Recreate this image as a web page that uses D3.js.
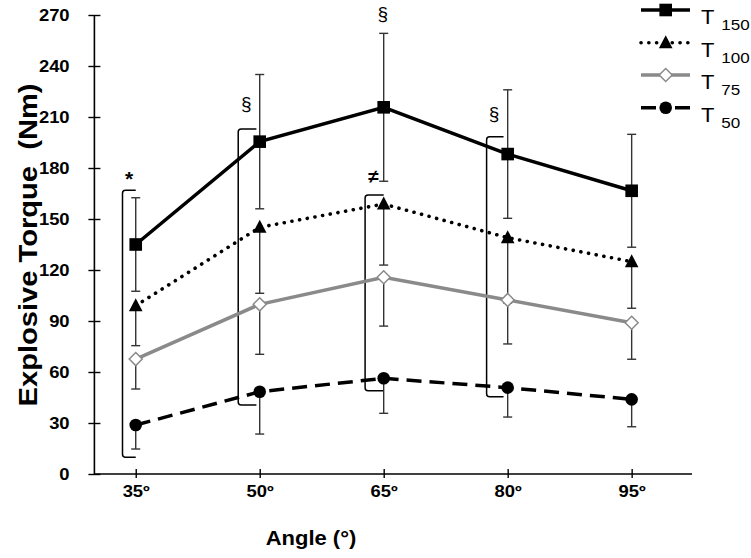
<!DOCTYPE html>
<html>
<head>
<meta charset="utf-8">
<script src="https://cdn.jsdelivr.net/npm/d3@7"></script>
<style>
  html, body { margin: 0; padding: 0; background: #fff; }
  svg { display: block; }
  text { font-family: "Liberation Sans", Arial, sans-serif; }
</style>
</head>
<body>
<svg id="chart" width="751" height="558"></svg>
<script>
// ---- data ----
const angles = [35, 50, 65, 80, 95];
const angleLabels = ["35º", "50º", "65º", "80º", "95º"];
const yTicks = [0, 30, 60, 90, 120, 150, 180, 210, 240, 270];

const t150 = [135, 195.5, 215.7, 188.2, 166.6];
const t150Err = [27.5, 39.5, 43.5, 37.8, 33.2];
const t100 = [99, 145.1, 158.8, 139, 124.9];
const t100Err = [23.5, 38.8, 35.9, 38.4, 27.4];
const t75 = [67.6, 99.8, 115.7, 102.4, 89];
const t75Err = [17.6, 29.4, 28.7, 25.9, 21.5];
const t50 = [28.8, 48.4, 56.3, 50.8, 43.9];
const t50Err = [14.1, 24.9, 20.6, 17.3, 16.1];

const seriesNames = ["150", "100", "75", "50"];

// significance brackets (angle of bracket spine, arm end angle, low/high value, symbol)
const bracketAngle = [33.4, 47.4, 62.75, 77.45];
const bracketArmEnd = [35, 49.6, 65, 79.5];
const bracketLow = [9.8, 40.6, 49, 45.5];
const bracketHigh = [166.9, 202.9, 164.1, 198.4];
const bracketSymbols = ["*", "§", "≠", "§"];
const topSymbol = { angle: 65, text: "§" };

// ---- drawing ----
const svg = d3.select("#chart");
const x = d3.scaleLinear().domain([30, 102.3]).range([94.4, 692]);
const y = d3.scaleLinear().domain([0, 270]).range([474, 15]);
const SX = 1.15; // horizontal glyph stretch seen in the reference

// axes
const xAxis = d3.axisBottom(x).tickValues(angles)
  .tickFormat((d, i) => angleLabels[i]).tickSizeOuter(0).tickSize(4).tickPadding(10);
const gx = svg.append("g").attr("transform", `translate(0,${y(0)})`).call(xAxis);
gx.select(".domain").attr("stroke", "#000").attr("stroke-width", 1.6).attr("d", `M${x(30)},0H${x(102.3)}`);
gx.selectAll(".tick line").attr("stroke", "#000").attr("stroke-width", 1.4).attr("y1", -5).attr("y2", 4);
gx.selectAll(".tick text").attr("font-size", 16).attr("font-weight", "bold").attr("fill", "#000")
  .attr("font-family", "Liberation Sans, Arial, sans-serif")
  .attr("y", 12).attr("dy", "0.71em").attr("transform", `scale(${SX},1)`);

const yAxis = d3.axisLeft(y).tickValues(yTicks).tickSizeOuter(0).tickSize(6).tickPadding(17);
const gy = svg.append("g").attr("transform", `translate(${x(30)},0)`).call(yAxis);
gy.select(".domain").attr("stroke", "#000").attr("stroke-width", 1.6).attr("d", `M0,${y(270)}V${y(0)}`);
gy.selectAll(".tick line").attr("stroke", "#000").attr("stroke-width", 1.4).attr("x1", -6).attr("x2", 6);
gy.selectAll(".tick text").attr("font-size", 16).attr("font-weight", "bold").attr("fill", "#000")
  .attr("font-family", "Liberation Sans, Arial, sans-serif")
  .attr("x", -24.8 / SX).attr("transform", `scale(${SX},1)`);

// axis titles
svg.append("text").attr("transform", "translate(28,245) rotate(-90) scale(1.12,1)")
  .attr("text-anchor", "middle").attr("dominant-baseline", "central")
  .attr("font-size", 26).attr("font-weight", "bold").attr("xml:space", "preserve")
  .text("Explosive Torque  (Nm)");
svg.append("text").attr("transform", "translate(311,545) scale(1.1,1)").attr("text-anchor", "middle")
  .attr("font-size", 20).attr("font-weight", "bold").text("Angle (°)");

// brackets
const symOffset = [4, 19, 12, 17];
const bracketG = svg.append("g").attr("fill", "none").attr("stroke", "#000").attr("stroke-width", 1.5);
bracketAngle.forEach((a, i) => {
  const xs = x(a), xe = x(bracketArmEnd[i]), yt = y(bracketHigh[i]), yb = y(bracketLow[i]);
  const r = 3;
  bracketG.append("path").attr("d",
    `M${xe},${yt}H${xs + r}Q${xs},${yt} ${xs},${yt + r}V${yb - r}Q${xs},${yb} ${xs + r},${yb}H${xe}`);
  svg.append("text").attr("x", (xs + xe) / 2 + (i === 0 ? 0 : -1)).attr("y", yt - symOffset[i])
    .attr("text-anchor", "middle").attr("font-size", i === 0 ? 21 : 19)
    .attr("font-weight", i === 2 || i === 0 ? "bold" : "normal")
    .text(bracketSymbols[i]);
});

// lines
const series = [
  { vals: t150, err: t150Err, both: true, stroke: "#000", dash: null, cap: "butt", w: 3.5, marker: "square" },
  { vals: t100, err: t100Err, both: false, stroke: "#000", dash: "0.1,7.7", cap: "round", w: 3.6, marker: "triangle" },
  { vals: t75, err: t75Err, both: false, stroke: "#8a8a8a", dash: null, cap: "butt", w: 3.5, marker: "diamond" },
  { vals: t50, err: t50Err, both: false, stroke: "#000", dash: "15,8", cap: "butt", w: 3.5, marker: "circle" }
];

// error bars first (behind markers)
const errG = svg.append("g").attr("stroke", "#333").attr("stroke-width", 1.4);
series.forEach(s => {
  angles.forEach((a, i) => {
    const cx = x(a);
    const lo = s.vals[i] - s.err[i];
    const hi = s.both ? s.vals[i] + s.err[i] : s.vals[i];
    errG.append("line").attr("x1", cx).attr("x2", cx).attr("y1", y(hi)).attr("y2", y(lo));
    errG.append("line").attr("x1", cx - 4.5).attr("x2", cx + 4.5).attr("y1", y(lo)).attr("y2", y(lo));
    if (s.both) errG.append("line").attr("x1", cx - 4.5).attr("x2", cx + 4.5).attr("y1", y(hi)).attr("y2", y(hi));
  });
});

const line = d3.line().x((d, i) => x(angles[i])).y(d => y(d));
series.forEach(s => {
  svg.append("path").datum(s.vals).attr("d", line).attr("fill", "none")
    .attr("stroke", s.stroke).attr("stroke-width", s.w).attr("stroke-linecap", s.cap)
    .attr("stroke-dasharray", s.dash);
});

function drawMarker(g, type, cx, cy) {
  if (type === "square") {
    g.append("rect").attr("x", cx - 6.3).attr("y", cy - 6.3).attr("width", 12.6).attr("height", 12.6).attr("fill", "#000");
  } else if (type === "triangle") {
    g.append("path").attr("d", `M${cx},${cy - 7.5}L${cx + 6.8},${cy + 5.5}L${cx - 6.8},${cy + 5.5}Z`).attr("fill", "#000");
  } else if (type === "diamond") {
    g.append("path").attr("d", `M${cx},${cy - 6.5}L${cx + 6.5},${cy}L${cx},${cy + 6.5}L${cx - 6.5},${cy}Z`)
      .attr("fill", "#fff").attr("stroke", "#8a8a8a").attr("stroke-width", 1.5);
  } else {
    g.append("circle").attr("cx", cx).attr("cy", cy).attr("r", 6.3).attr("fill", "#000");
  }
}
const markG = svg.append("g");
series.forEach(s => {
  s.vals.forEach((v, i) => drawMarker(markG, s.marker, x(angles[i]), y(v)));
});

// top symbol
svg.append("text").attr("x", x(topSymbol.angle) - 1).attr("y", 20).attr("text-anchor", "middle")
  .attr("font-size", 19).text(topSymbol.text);

// legend
const legY = [10, 42.7, 75, 107.7];
const legG = svg.append("g");
series.forEach((s, i) => {
  const ly = legY[i];
  legG.append("path").attr("d", `M641,${ly}H690`).attr("fill", "none")
    .attr("stroke", s.stroke).attr("stroke-width", s.w).attr("stroke-linecap", s.cap)
    .attr("stroke-dasharray", s.dash === "15,8" ? "15,19,15" : s.dash);
  drawMarker(legG, s.marker, 665.7, ly);
  const lt = legG.append("g").attr("transform", `translate(701,${ly + 14}) scale(1.1,1)`);
  lt.append("text").attr("x", 0).attr("y", 0).attr("font-size", 20).text("T");
  lt.append("text").attr("x", 18.5).attr("y", 6).attr("font-size", 15.5).text(seriesNames[i]);
});
</script>
</body>
</html>
